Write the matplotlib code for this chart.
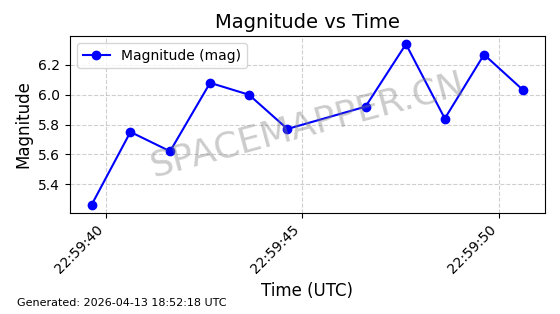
import matplotlib
matplotlib.use("Agg")
import matplotlib.pyplot as plt
import matplotlib.dates as mdates
import pandas as pd

# seconds after 22:59:00 UTC
seconds = [39.63, 40.62, 41.63, 42.65, 43.64, 44.62, 46.61, 47.64, 48.63, 49.63, 50.63]
magnitude = [5.26, 5.75, 5.62, 6.08, 6.00, 5.77, 5.92, 6.34, 5.84, 6.27, 6.03]

base = pd.Timestamp("2026-04-13 22:59:00")
times = [base + pd.Timedelta(seconds=s) for s in seconds]

fig, ax = plt.subplots(figsize=(5.6, 3.14), dpi=100)
fig.subplots_adjust(left=0.125, right=0.973, top=0.885, bottom=0.322)

ax.plot(times, magnitude, color="blue", marker="o", markersize=6, linewidth=1.5,
        label="Magnitude (mag)")
ax.set_title("Magnitude vs Time", fontsize=14)
ax.set_xlabel("Time (UTC)", fontsize=12)
ax.set_ylabel("Magnitude", fontsize=12)
ax.grid(True, linestyle="--", alpha=0.6)
ax.legend(loc="upper left", fontsize=10)

ax.xaxis.set_major_locator(mdates.SecondLocator(bysecond=range(0, 60, 5)))
ax.xaxis.set_major_formatter(mdates.DateFormatter("%H:%M:%S"))
plt.setp(ax.get_xticklabels(), rotation=45, ha="right")

ax.text(0.5, 0.5, "SPACEMAPPER.CN", transform=ax.transAxes, fontsize=26,
        color="gray", alpha=0.4, rotation=15, ha="center", va="center")

fig.text(0.03, 0.025, "Generated: 2026-04-13 18:52:18 UTC", fontsize=8)

fig.savefig("out.png", dpi=100)
